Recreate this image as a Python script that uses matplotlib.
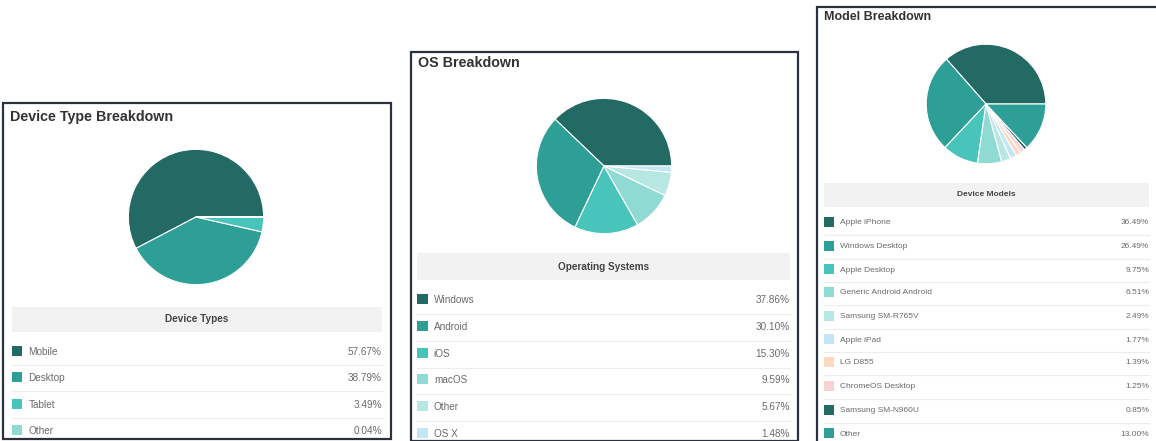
import matplotlib.pyplot as plt
from matplotlib.patches import Rectangle

W, H = 1156, 441

# data
device_labels = ["Mobile", "Desktop", "Tablet", "Other"]
device_values = [57.67, 38.79, 3.49, 0.04]

os_labels = ["Windows", "Android", "iOS", "macOS", "Other", "OS X"]
os_values = [37.86, 30.10, 15.30, 9.59, 5.67, 1.48]

model_labels = ["Apple iPhone", "Windows Desktop", "Apple Desktop",
                "Generic Android Android", "Samsung SM-R765V", "Apple iPad",
                "LG D855", "ChromeOS Desktop", "Samsung SM-N960U", "Other"]
model_values = [36.49, 26.49, 9.75, 6.51, 2.49, 1.77, 1.39, 1.25, 0.85, 13.00]

palette = ["#226a63", "#2e9f96", "#48c4ba", "#90dad4", "#b7e7e3",
           "#c3e5f6", "#fcd9c0", "#f4d3d3", "#226a63", "#2e9f96"]

plt.rcParams["font.family"] = ["Liberation Sans", "DejaVu Sans"]

fig = plt.figure(figsize=(W / 100, H / 100), dpi=100)
bg = fig.add_axes([0, 0, 1, 1])
bg.set_xlim(0, W)
bg.set_ylim(H, 0)
bg.axis("off")

panels = [
    dict(box=(3, 103, 388, 336), title="Device Type Breakdown", tfs=10.3,
         ty=117, pie=(196, 217, 69), band=(12, 307, 370, 25),
         rows=[352, 378, 405, 431], fs=7.2, labels=device_labels,
         values=device_values, head="Device Types"),
    dict(box=(411, 52, 387, 389), title="OS Breakdown", tfs=10.3,
         ty=63, pie=(604, 166, 69), band=(417, 253, 373, 27),
         rows=[300, 327, 354, 380, 407, 434], fs=7.2, labels=os_labels,
         values=os_values, head="Operating Systems"),
    dict(box=(817, 7, 345, 440), title="Model Breakdown", tfs=9.0,
         ty=17, pie=(986, 104, 61), band=(824, 183, 325, 24),
         rows=[223, 247, 270, 293, 317, 340, 363, 387, 411, 434], fs=6,
         labels=model_labels, values=model_values, head="Device Models"),
]

for p in panels:
    x, y, w, h = p["box"]
    bg.add_patch(Rectangle((x, y), w, h, facecolor="white",
                           edgecolor="#2a333d", linewidth=1.6, zorder=1))
    bg.text(x + 7, p["ty"], p["title"], fontsize=p["tfs"], fontweight="bold",
            color="#333333", va="center", ha="left", zorder=3)

    bx, by, bw, bh = p["band"]
    bg.add_patch(Rectangle((bx, by), bw, bh, facecolor="#f2f2f2",
                           edgecolor="none", zorder=2))
    bg.text(bx + bw / 2, by + bh / 2, p["head"], fontsize=p["fs"],
            fontweight="bold", color="#444444", ha="center", va="center",
            zorder=3)

    rows = p["rows"]
    step = rows[1] - rows[0]
    sq = step * 0.40
    for i, (lab, val) in enumerate(zip(p["labels"], p["values"])):
        ry = rows[i]
        bg.add_patch(Rectangle((bx, ry - sq / 2 - 1), sq, sq,
                               facecolor=palette[i], edgecolor="none", zorder=3))
        bg.text(bx + sq + 6, ry, lab, fontsize=p["fs"], color="#6a6a6a",
                ha="left", va="center", zorder=3)
        bg.text(bx + bw, ry, f"{val:.2f}%", fontsize=p["fs"], color="#6a6a6a",
                ha="right", va="center", zorder=3)
        if i < len(rows) - 1:
            ly = ry + step / 2
            bg.plot([bx, bx + bw], [ly, ly], color="#ececec", lw=0.8, zorder=2)

    cx, cy, r = p["pie"]
    pax = fig.add_axes([(cx - r) / W, 1 - (cy + r) / H, 2 * r / W, 2 * r / H])
    pax.pie(p["values"], colors=palette[:len(p["values"])], startangle=0,
            counterclock=True, radius=1,
            wedgeprops=dict(edgecolor="white", linewidth=0.8))
    pax.set_xlim(-1.02, 1.02)
    pax.set_ylim(-1.02, 1.02)
    pax.set_aspect("auto")
    pax.axis("off")

fig.savefig("out.png", dpi=100)
